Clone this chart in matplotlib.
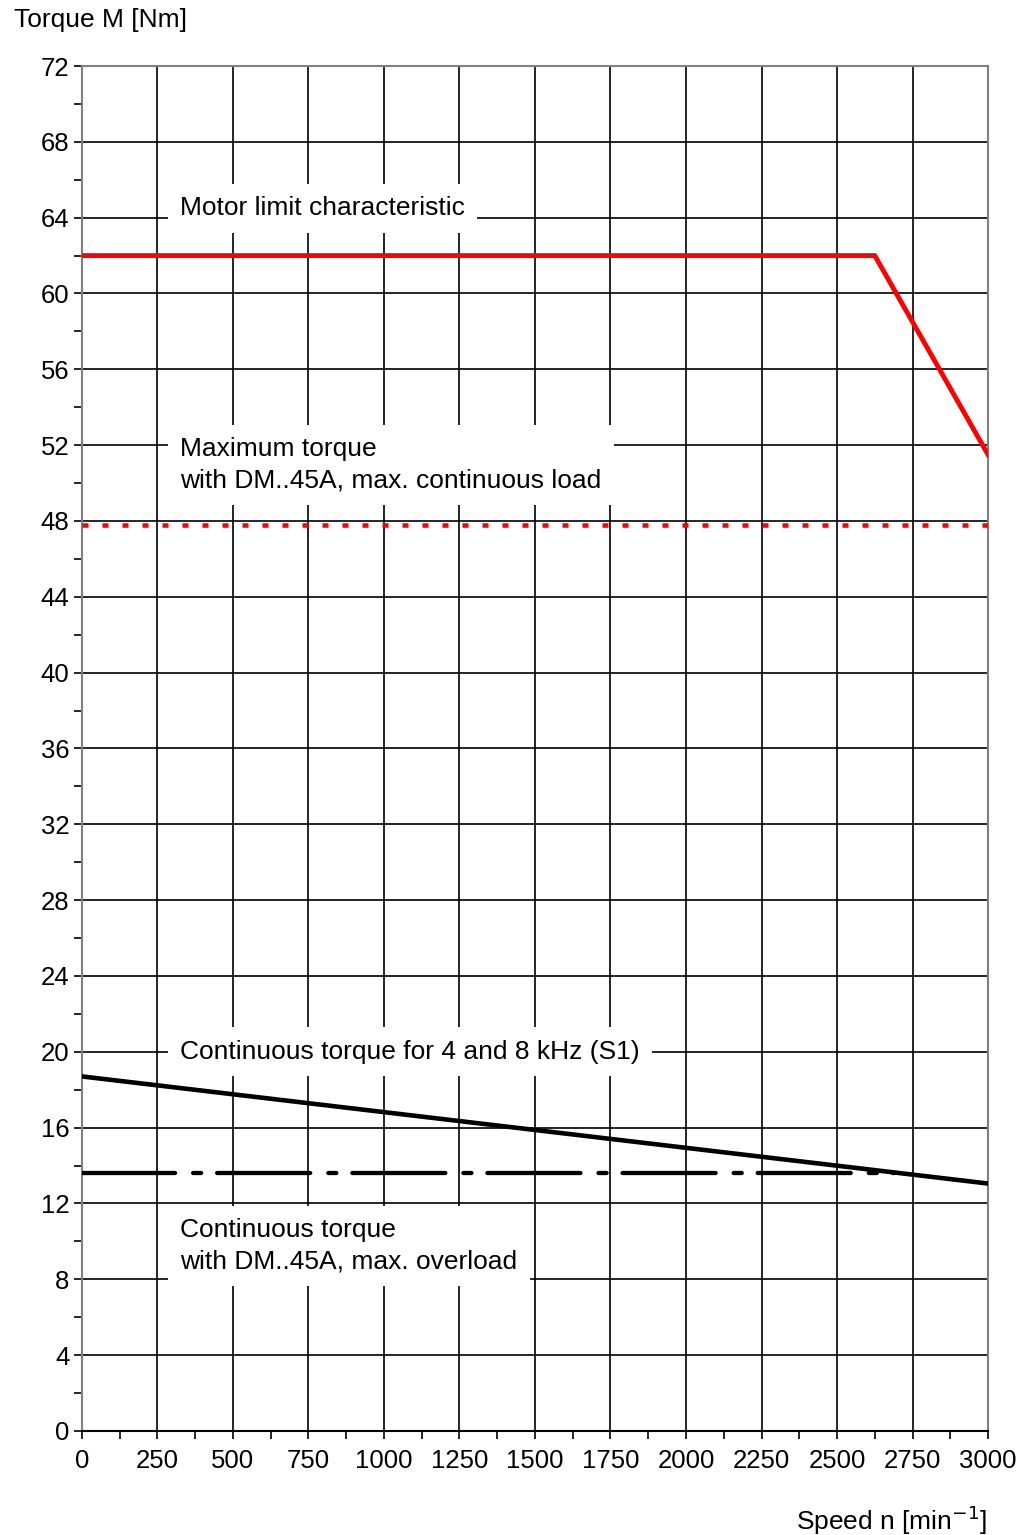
import matplotlib
matplotlib.use("Agg")
from matplotlib import pyplot as plt
import numpy as np

plt.rcParams['font.family'] = ['Liberation Sans', 'DejaVu Sans']
plt.rcParams['lines.scale_dashes'] = False

# motor limit characteristic
limit_speed = [0, 2625, 3000]
limit_torque = [62.0, 62.0, 51.5]

# max torque with DM..45A, continuous load
max_cont_speed = [0, 3000]
max_cont_torque = [47.8, 47.8]

# continuous torque S1
s1_speed = [0, 3000]
s1_torque = [18.7, 13.05]

# continuous torque with DM..45A, overload
ovl_speed = [0, 2690]
ovl_torque = [13.6, 13.6]

x_major = np.arange(0, 3001, 250)
y_major = np.arange(0, 73, 4)

fig = plt.figure(figsize=(10.35, 15.35), dpi=100)
ax = fig.add_axes([0.0792, 0.0678, 0.8754, 0.8892])

ax.set_xlim(0, 3000)
ax.set_ylim(0, 72)
ax.set_xticks(x_major)
ax.set_yticks(y_major)
ax.set_xticks(np.arange(0, 3001, 125), minor=True)
ax.set_yticks(np.arange(0, 73, 2), minor=True)
ax.tick_params(which='both', direction='out', length=6, width=1.2, labelsize=18.5, pad=3)
ax.tick_params(axis='x', pad=7)
ax.grid(True, which='major', color='black', lw=1.2, zorder=0)

for s in ['left', 'right', 'top']:
    ax.spines[s].set_color('#808080')
    ax.spines[s].set_linewidth(1.5)
ax.spines['bottom'].set_linewidth(1.5)

ax.plot(limit_speed, limit_torque, color='#ff0000', lw=3.5, zorder=3, solid_joinstyle='miter')
ax.plot(max_cont_speed, max_cont_torque, color='#ff0000', lw=3.3, zorder=3,
        dashes=(4.3, 10.1), dash_capstyle='butt')
ax.plot(s1_speed, s1_torque, color='black', lw=3.3, zorder=3)
ax.plot(ovl_speed, ovl_torque, color='black', lw=3.1, zorder=3,
        dashes=(67, 13, 5.8, 11.5), dash_capstyle='round')

box = dict(facecolor='white', edgecolor='none', pad=9)
fs = 19
ax.text(325, 64.5, "Motor limit characteristic", fontsize=fs, va='center', ha='left', bbox=box, zorder=2)
ax.text(325, 50.95, "Maximum torque\nwith DM..45A, max. continuous load", fontsize=fs, va='center',
        ha='left', linespacing=1.4, bbox=box, zorder=2)
ax.text(325, 20.0, "Continuous torque for 4 and 8 kHz (S1)", fontsize=fs, va='center', ha='left',
        bbox=box, zorder=2)
ax.text(325, 9.76, "Continuous torque\nwith DM..45A, max. overload", fontsize=fs, va='center',
        ha='left', linespacing=1.4, bbox=box, zorder=2)

fig.text(14 / 1035, 1 - 20 / 1535, "Torque M [Nm]", fontsize=fs, ha='left', va='center')
fig.text(987 / 1035, 1 - 1520 / 1535, "Speed n [min$^{-1}$]", fontsize=fs, ha='right', va='center')

fig.savefig("out.png", dpi=100)
